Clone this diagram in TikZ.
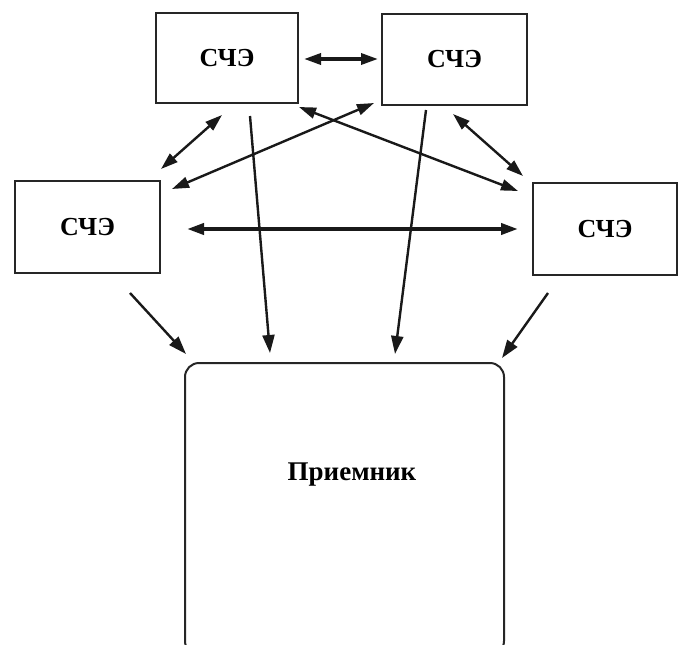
\documentclass[tikz,border=0pt]{standalone}
\usepackage{fontspec}
\setmainfont{Liberation Serif}
\usetikzlibrary{arrows.meta}
\begin{document}
\begin{tikzpicture}[x=1pt,y=-1pt,
  box/.style={draw=black!85, line width=2pt, inner sep=0pt, font=\fontsize{26}{30}\selectfont\bfseries},
  conn/.style={line width=2.4pt, black!90},
  hd/.style={Triangle[length=17pt,width=11pt]},
  dbl/.style={conn, {Triangle[length=17pt,width=11pt]}-{Triangle[length=17pt,width=11pt]}},
  one/.style={conn, -{Triangle[length=18pt,width=12pt]}}]
\clip (0,0) rectangle (680,645);
\fill[white] (0,0) rectangle (680,645);
% boxes
\node[box, minimum width=142pt, minimum height=90pt] (tl) at (227,58) {СЧЭ};
\node[box, minimum width=145pt, minimum height=91pt] (tr) at (454.5,59.5) {СЧЭ};
\node[box, minimum width=145pt, minimum height=92pt] (l) at (87.5,227) {СЧЭ};
\node[box, minimum width=144pt, minimum height=92pt] (r) at (605,229) {СЧЭ};
\node[box, rounded corners=14pt, minimum width=319pt, minimum height=292pt, anchor=north] (rcv) at (344.5,362) {};
\node[font=\fontsize{27}{31}\selectfont\bfseries] (rcvtext) at (352,475) {Приемник};
% endpoints
\coordinate (a1) at (304,59);   \coordinate (a2) at (378,59);
\coordinate (b1) at (222,115);  \coordinate (b2) at (161,169);
\coordinate (c1) at (374,103);  \coordinate (c2) at (172,189);
\coordinate (d1) at (299,107);  \coordinate (d2) at (518,191);
\coordinate (e1) at (453,114);  \coordinate (e2) at (523,176);
\coordinate (f1) at (187,229);  \coordinate (f2) at (518,229);
\coordinate (g1) at (250,116);  \coordinate (g2) at (270,353);
\coordinate (h1) at (426,110);  \coordinate (h2) at (395,354);
\coordinate (i1) at (130,293);  \coordinate (i2) at (186,354);
\coordinate (j1) at (548,293);  \coordinate (j2) at (502,358);
% connectors
\draw[dbl, line width=3.4pt] (a1) -- (a2);
\draw[dbl] (b1) -- (b2);
\draw[dbl] (c1) -- (c2);
\draw[dbl] (d1) -- (d2);
\draw[dbl] (e1) -- (e2);
\draw[dbl, line width=3.8pt] (f1) -- (f2);
\draw[one] (g1) -- (g2);
\draw[one] (h1) -- (h2);
\draw[one] (i1) -- (i2);
\draw[one] (j1) -- (j2);
\end{tikzpicture}
\end{document}
